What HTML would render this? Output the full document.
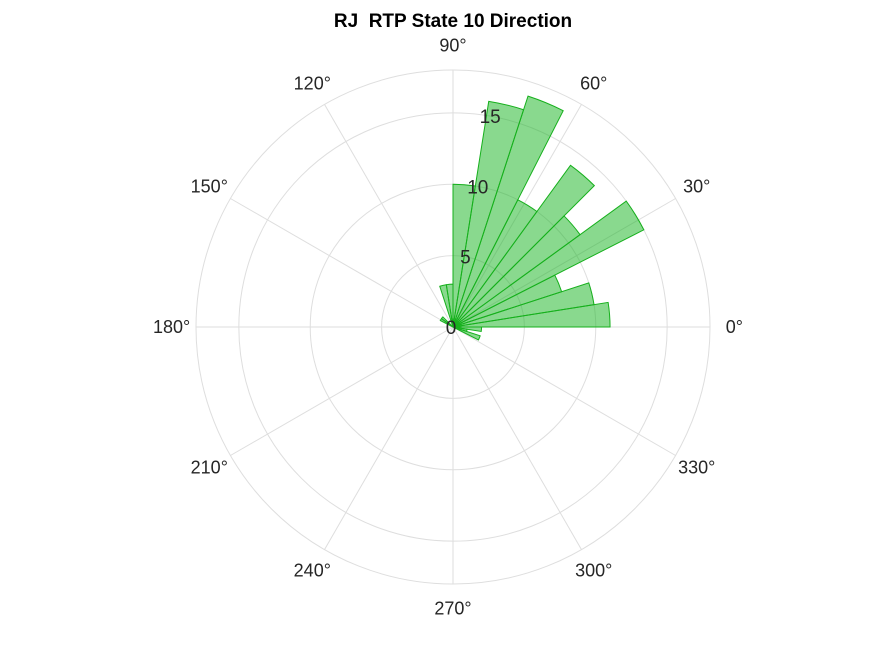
<!DOCTYPE html>
<html><head><meta charset="utf-8"><style>
body{margin:0;background:#fff;}
svg{display:block;font-family:"Liberation Sans",Arial,sans-serif;}
</style></head><body>
<svg id="chart" width="875" height="656">
<rect width="875" height="656" fill="#fff"/>
<text x="453" y="27" text-anchor="middle" font-size="19" font-weight="bold" fill="#000">RJ&#160; RTP State 10 Direction</text>
<g id="grid"></g><g id="bars"></g><g id="labels"></g>
</svg>
<script>
const binWidthDeg = 9;
const binCounts = [11,10,8,15,11,14,10,17,16,10,3,3,0,0,0,1,1,0,0,0,0,0,0,0,0,0,0,0,0,0,0,0,0,0,0,0,0,2,1,2];
const rTicks = [0,5,10,15];
const rMax = 18;
const thetaTicks = [0,30,60,90,120,150,180,210,240,270,300,330];
const cx=453, cy=327, R=257;
const ns="http://www.w3.org/2000/svg";
function rs(v){return v/rMax*R;}
function pt(v,deg){const a=deg*Math.PI/180;return [cx+rs(v)*Math.cos(a), cy-rs(v)*Math.sin(a)];}
const grid=document.getElementById('grid'), bars=document.getElementById('bars'), labels=document.getElementById('labels');
function mk(tag,attrs,parent){const e=document.createElementNS(ns,tag);for(const k in attrs)e.setAttribute(k,attrs[k]);parent.appendChild(e);return e;}
rTicks.concat([rMax]).forEach(v=>{if(v<=0)return;
 const c=mk('circle',{cx:cx,cy:cy,r:rs(v),fill:'none',stroke:'#dedede','stroke-width':1},grid);
 
 });
thetaTicks.forEach(t=>{const p=pt(rMax,t);
 const l=mk('line',{x1:cx,y1:cy,x2:p[0],y2:p[1],stroke:'#dedede','stroke-width':1},grid);
 
 
 const q=pt(rMax*1.095,t);
 const tx=mk('text',{x:q[0],y:q[1]+6,'text-anchor':'middle','font-size':18,fill:'#262626'},labels);
 tx.textContent=t+'°';
 
 });
binCounts.forEach((v,i)=>{if(v<=0)return;
 const a0=i*binWidthDeg,a1=(i+1)*binWidthDeg;const p0=pt(v,a0),p1=pt(v,a1);
 const path=mk('path',{d:`M${cx},${cy}L${p0[0]},${p0[1]}A${rs(v)},${rs(v)} 0 0 0 ${p1[0]},${p1[1]}Z`,fill:'rgba(20,180,30,0.5)',stroke:'#16b01c','stroke-width':1},bars);
 
 });
rTicks.forEach(v=>{const p=pt(v,80);
 const tx=mk('text',{x:p[0]+(v===0?-2:0),y:p[1]+7,'text-anchor':'middle','font-size':19,fill:'#262626'},labels);
 tx.textContent=v;
 
 });
</script>
</body></html>
